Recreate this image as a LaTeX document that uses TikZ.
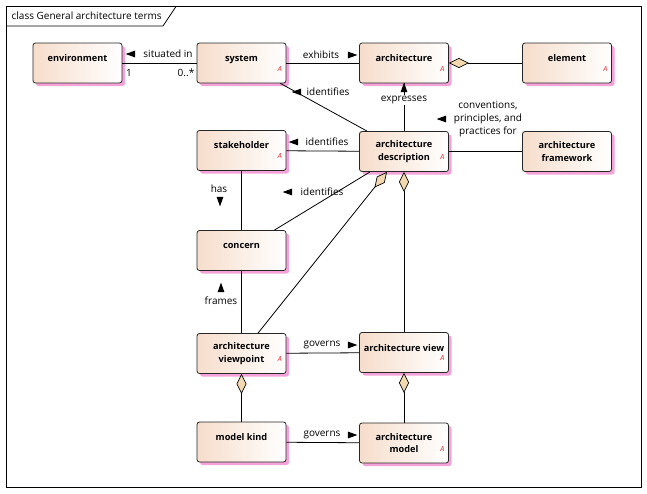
\documentclass[tikz,border=0pt]{standalone}
\usepackage{fontspec}
\setmainfont{Open Sans}
\usetikzlibrary{arrows.meta,positioning,shapes.geometric,shadows}
\definecolor{boxPeach}{HTML}{F6DDCB}
\definecolor{shadePink}{HTML}{F4A3D8}
\definecolor{diamondTan}{HTML}{F3D9B0}
\definecolor{absRed}{HTML}{E8202A}

\tikzset{
  cls/.style={draw=black!85, line width=0.8pt, rounded corners=2.5pt,
    left color=boxPeach, right color=white,
    minimum width=89pt, minimum height=40pt, inner sep=2pt, align=center,
    font=\bfseries\fontsize{9.2}{12.5}\selectfont,
    drop shadow={shadow xshift=3pt, shadow yshift=-3pt, fill=shadePink, opacity=1}},
  cls1/.style={cls, text depth=10pt},
  absmark/.style={text=absRed, font=\itshape\fontsize{7}{7}\selectfont, inner sep=0pt},
  lbl/.style={font=\fontsize{10}{13}\selectfont, inner sep=1pt, align=center},
  % direction marks: slim filled triangles
  tri/.style={regular polygon, regular polygon sides=3, fill=black,
    inner sep=0pt, minimum size=8pt, yscale=1.6},
  triU/.style={tri},
  triL/.style={rotate=90, tri},
  triR/.style={rotate=-90, tri},
  triD/.style={rotate=180, tri},
  link/.style={draw=black, line width=0.8pt},
  agg/.style={link, -{Diamond[length=20pt, width=10pt, fill=diamondTan, line width=0.7pt]}},
}
\newcommand{\absA}[1]{\node[absmark] at ([xshift=-6.5pt, yshift=14.5pt]#1.south east) {A};}

\begin{document}
\begin{tikzpicture}[x=1pt, y=-1pt]
  \useasboundingbox (0,0) rectangle (647,493);
  % diagram frame and name tab
  \draw[line width=0.9pt] (6.5,6.5) rectangle (641,487);
  \draw[line width=0.8pt] (6.5,26) -- (163,26) -- (176,6.5);
  \node[lbl, anchor=west] (title) at (10.5,16) {class General architecture terms};

  % classes
  \node[cls1] (env)  at (77.5,63)  {environment};
  \node[cls1] (sys)  at (241.5,63) {system};
  \node[cls1] (arch) at (404,63)   {architecture};
  \node[cls1] (elem) at (567,63)   {element};
  \node[cls1] (stk)  at (241.5,150.5) {stakeholder};
  \node[cls] (ad)   at (404,151.5)   {architecture\\description};
  \node[cls] (fw)   at (567,151.5)   {architecture\\framework};
  \node[cls1] (con)  at (241.5,250.5) {concern};
  \node[cls] (vp)   at (241.5,353.5) {architecture\\viewpoint};
  \node[cls1] (view) at (404,352.5)   {architecture view};
  \node[cls1] (mk)   at (241.5,442)   {model kind};
  \node[cls] (mod)  at (404,443)     {architecture\\model};
  \foreach \c in {sys,arch,elem,stk,ad,vp,view,mod}{\absA{\c}}

  % associations
  \draw[link] (env) -- (sys);
  \node[triL] (t1) at (132,54) {};
  \node[lbl] (l1) at (168,54) {situated in};
  \node[lbl] (m1) at (129,73) {1};
  \node[lbl] (m2) at (186,73) {0..*};

  \draw[link] (sys) -- (arch);
  \node[lbl] (l2) at (321,55) {exhibits};
  \node[triR] (t2) at (351,55) {};

  \draw[agg] (elem) -- (arch);

  \draw[link] ([xshift=-6pt]sys.south east) -- ([xshift=-37pt]ad.north);
  \node[triL] (t3) at (298,92) {};
  \node[lbl] (l3) at (328,92) {identifies};

  \draw[link] (ad) -- (arch);
  \node[triU] (t4) at (404,89) {};
  \node[lbl, fill=white] (l4) at (404,100) {expresses};

  \draw[link] (ad) -- (stk);
  \node[triL] (t5) at (295,142) {};
  \node[lbl] (l5) at (327,142) {identifies};

  \draw[link] (ad) -- (fw);
  \node[triL] (t6) at (443,119) {};
  \node[lbl] (l6) at (488,119) {conventions,\\principles, and\\practices for};

  \draw[link] (stk) -- (con);
  \node[lbl] (l7) at (219,189) {has};
  \node[triD] (t7) at (220,200) {};

  \draw[link] ([xshift=-12pt]con.north east) -- ([xshift=-34pt]ad.south);
  \node[triL] (t8) at (289,192) {};
  \node[lbl] (l8) at (322,192) {identifies};

  \draw[link] (con) -- (vp);
  \node[triU] (t9) at (221,289) {};
  \node[lbl] (l9) at (221,301) {frames};

  % aggregations
  \draw[agg] ([xshift=16.5pt]vp.north) -- ([xshift=-17pt]ad.south);
  \draw[agg] (view) -- (ad);
  \draw[agg] (mk) -- (vp);
  \draw[agg] (mod) -- (view);

  \draw[link] (vp) -- (view);
  \node[lbl] (l10) at (322,345) {governs};
  \node[triR] (t10) at (351,345) {};

  \draw[link] (mk) -- (mod);
  \node[lbl] (l11) at (322,435) {governs};
  \node[triR] (t11) at (351,435) {};
\end{tikzpicture}
\end{document}
